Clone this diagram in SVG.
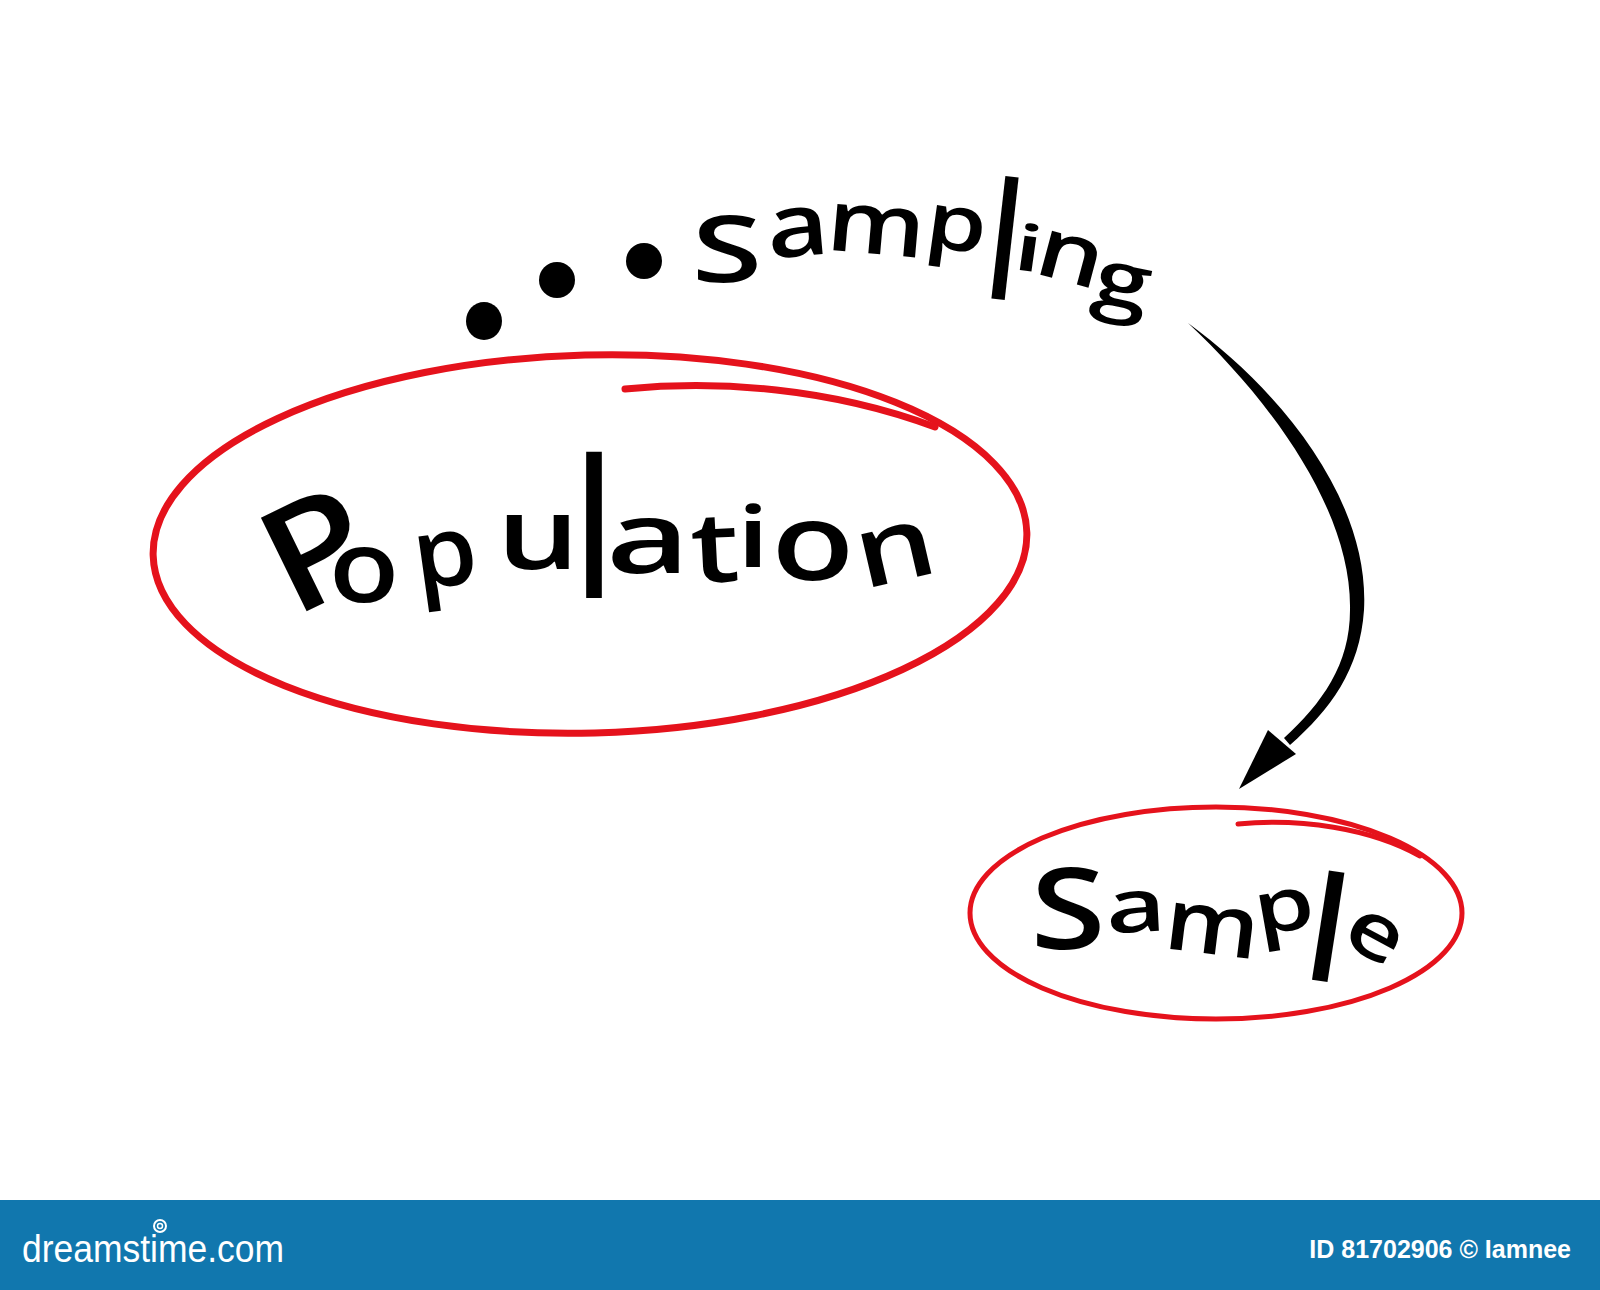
<svg xmlns="http://www.w3.org/2000/svg" width="1600" height="1290" viewBox="0 0 1600 1290">
<style>
.lt{font-family:"Open Sans","Liberation Sans",sans-serif;font-weight:600;fill:#000;text-anchor:middle}
.ring{fill:none;stroke:#e5121c;stroke-linecap:round}
.banner{font-family:"Liberation Sans","DejaVu Sans",sans-serif;fill:#fff}
</style>
<rect width="1600" height="1290" fill="#fff"/>

<g id="node-population">
  <ellipse class="ring" cx="590" cy="544" rx="437" ry="189" stroke-width="7" transform="rotate(-1.5 590 544)"/>
  <path class="ring" d="M625,389 C720,380 830,388 935,427" stroke-width="7"/>
  <text class="lt" font-size="146" font-weight="500" transform="translate(316,549) rotate(-26) scale(1.15,1)" y="52">P</text>
  <text class="lt" font-size="100" transform="translate(364,575) scale(1.15,1)" y="27">o</text>
  <text class="lt" font-size="98" transform="translate(447,570) rotate(-8) scale(1.05,1)" y="16">p</text>
  <text class="lt" font-size="100" transform="translate(538,542) scale(1.3,1)" y="27">u</text>
  <text class="lt" font-size="136" transform="translate(594,598) scale(1,1.42)">l</text>
  <text class="lt" font-size="100" transform="translate(648,546) scale(1.45,1)" y="27">a</text>
  <text class="lt" font-size="98" transform="translate(715,550) rotate(-3) scale(1.25,1)" y="32">t</text>
  <text class="lt" font-size="85" transform="translate(753,535) scale(1.4,1)" y="32">i</text>
  <text class="lt" font-size="106" transform="translate(813,551) scale(1.28,1)" y="29">o</text>
  <text class="lt" font-size="100" transform="translate(896,554) rotate(-13) scale(1.25,1)" y="27">n</text>
</g>

<g id="node-sample">
  <ellipse class="ring" cx="1216" cy="913" rx="246" ry="106" stroke-width="5"/>
  <path class="ring" d="M1238,824 C1300,818 1370,828 1420,856" stroke-width="5"/>
  <text class="lt" font-size="112" transform="translate(1068,909) scale(1.22,1)" y="40">S</text>
  <text class="lt" font-size="74" transform="translate(1136,912) rotate(-3) scale(1.4,1)" y="20">a</text>
  <text class="lt" font-size="86" transform="translate(1212,931) rotate(7) scale(1.15,1)" y="23">m</text>
  <text class="lt" font-size="74" transform="translate(1286,920) rotate(-10) scale(1.3,1)" y="11">p</text>
  <text class="lt" font-size="136" transform="translate(1328,927) rotate(8.8) scale(1,1.07)" y="51">l</text>
  <text class="lt" font-size="78" transform="translate(1374,937) rotate(28) scale(1.25,1)" y="21">e</text>
</g>

<g id="connectors">
  <g id="edge-sampling">
    <path d="M1188,323 C1280,390 1370,500 1364,610 C1360,670 1330,710 1290,745 L1284,738 C1322,703 1350,665 1350,610 C1352,510 1270,400 1188,323 Z" fill="#000"/>
    <polygon points="1268,730 1296,754 1239,789" fill="#000"/>
  </g>
  <g id="label-sampling">
    <ellipse cx="484" cy="321" rx="18" ry="19"/>
    <ellipse cx="557" cy="280" rx="18" ry="18"/>
    <ellipse cx="644" cy="261" rx="18" ry="18"/>
    <text class="lt" font-size="93" transform="translate(727,249) scale(1.38,1)" y="33">S</text>
    <text class="lt" font-size="88" transform="translate(798,232) rotate(-5) scale(1.22,1)" y="24">a</text>
    <text class="lt" font-size="86" transform="translate(876,231) rotate(5) scale(1.2,1)" y="23">m</text>
    <text class="lt" font-size="78" transform="translate(955,238) rotate(8) scale(1.25,1)" y="12">p</text>
    <text class="lt" font-size="116" transform="translate(1005,238) rotate(6.5) scale(1,1.4)" y="44">l</text>
    <text class="lt" font-size="64" transform="translate(1029,247) rotate(8) scale(1.6,1)" y="24">i</text>
    <text class="lt" font-size="84" transform="translate(1070,260) rotate(15) scale(1.25,1)" y="22">n</text>
    <text class="lt" font-size="78" transform="translate(1120,295) rotate(12) scale(1.3,1)" y="12">g</text>
  </g>
</g>

<g id="footer">
  <rect x="0" y="1200" width="1600" height="90" fill="#1177ae"/>
  <text class="banner" x="22" y="1262" font-size="38" textLength="262" lengthAdjust="spacingAndGlyphs">dreamstime.com</text>
  <circle cx="160" cy="1226" r="6" fill="none" stroke="#fff" stroke-width="2"/>
  <circle cx="160" cy="1226" r="2.5" fill="none" stroke="#fff" stroke-width="1.5"/>
  <text class="banner" x="1571" y="1258" font-size="25" font-weight="bold" text-anchor="end">ID 81702906 © Iamnee</text>
</g>
</svg>
